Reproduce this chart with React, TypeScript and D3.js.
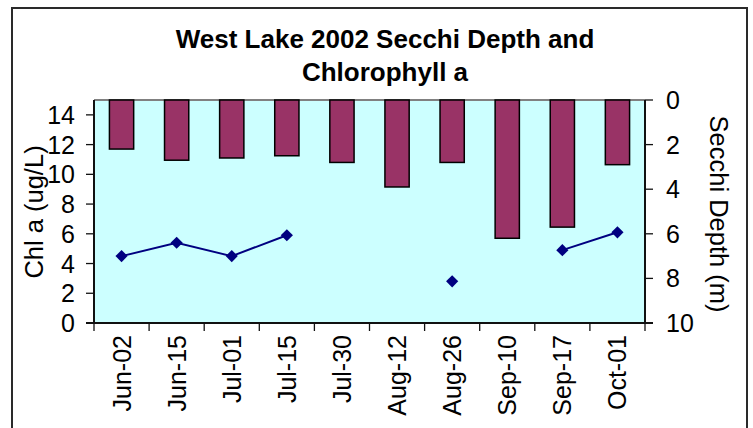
import React from "react";
import * as d3 from "d3";

const categories = ["Jun-02", "Jun-15", "Jul-01", "Jul-15", "Jul-30", "Aug-12", "Aug-26", "Sep-10", "Sep-17", "Oct-01"];
const secchiDepth = [2.2, 2.7, 2.6, 2.5, 2.8, 3.9, 2.8, 6.2, 5.7, 2.9];
const chlA: (number | null)[] = [4.5, 5.4, 4.5, 5.9, null, null, 2.8, null, 4.9, 6.1];
const leftTicks = [0, 2, 4, 6, 8, 10, 12, 14];
const rightTicks = [0, 2, 4, 6, 8, 10];

const W = 753, H = 428;
const pl = 94, pr = 645, pt = 100, pb = 323;
const FONT = "'Liberation Sans', Arial, sans-serif";

export default function App() {
  const x = d3.scaleBand<string>().domain(categories).range([pl, pr]).paddingInner(0).paddingOuter(0);
  const yL = d3.scaleLinear().domain([0, 15]).range([pb, pt]);
  const yR = d3.scaleLinear().domain([0, 10]).range([pt, pb]);
  const bw = x.bandwidth() * 0.44;
  const cx = (c: string) => (x(c) as number) + x.bandwidth() / 2;

  const pts = categories.map((c, i) => ({ c, v: chlA[i] }));
  const line = d3
    .line<{ c: string; v: number | null }>()
    .defined((d) => d.v != null)
    .x((d) => cx(d.c))
    .y((d) => yL(d.v as number));
  const diamond = d3.symbol().type(d3.symbolSquare).size(74)();

  const catTicks = [...categories.map((c) => x(c) as number), pr];

  return (
    <svg width={W} height={H} style={{ position: "absolute", left: 0, top: 0 }} fontFamily={FONT}>
      <rect x={0} y={0} width={W} height={H} fill="#fff" />
      <rect x={12} y={8} width={735} height={440} fill="#fff" stroke="#2a2a2a" strokeWidth={2} />
      <text x={385} y={48} textAnchor="middle" fontSize={26} fontWeight="bold">West Lake 2002 Secchi Depth and</text>
      <text x={385} y={81} textAnchor="middle" fontSize={26} fontWeight="bold">Chlorophyll a</text>

      <rect x={pl} y={pt} width={pr - pl} height={pb - pt} fill="#CCFFFF" />
      <line x1={pl} x2={pr} y1={pt} y2={pt} stroke="#808080" strokeWidth={2} />

      {categories.map((c, i) => (
        <rect key={c} x={cx(c) - bw / 2} y={yR(0)} width={bw} height={yR(secchiDepth[i]) - yR(0)} fill="#993366" stroke="#000" strokeWidth={1.5} />
      ))}

      <path d={line(pts) || ""} fill="none" stroke="#000080" strokeWidth={2} />
      {pts.filter((p) => p.v != null).map((p) => (
        <path key={p.c} d={diamond || ""} transform={`translate(${cx(p.c)},${yL(p.v as number)}) rotate(45)`} fill="#000080" />
      ))}

      <line x1={pl} x2={pl} y1={pt} y2={pb} stroke="#111" strokeWidth={2} />
      <line x1={pr} x2={pr} y1={pt} y2={pb} stroke="#111" strokeWidth={2} />
      <line x1={pl - 8} x2={pr + 8} y1={pb} y2={pb} stroke="#111" strokeWidth={2} />

      {leftTicks.map((t) => (
        <g key={"l" + t}>
          <line x1={pl - 8} x2={pl} y1={yL(t)} y2={yL(t)} stroke="#111" strokeWidth={1.3} />
          <text x={75} y={yL(t)} dy="0.36em" textAnchor="end" fontSize={25}>{t}</text>
        </g>
      ))}
      {rightTicks.map((t) => (
        <g key={"r" + t}>
          <line x1={pr} x2={pr + 8} y1={yR(t)} y2={yR(t)} stroke="#111" strokeWidth={1.3} />
          <text x={666} y={yR(t)} dy="0.36em" textAnchor="start" fontSize={25}>{t}</text>
        </g>
      ))}
      {catTicks.map((t, i) => (
        <line key={"c" + i} x1={t} x2={t} y1={pb} y2={pb + 8} stroke="#111" strokeWidth={1.3} />
      ))}
      {categories.map((c) => (
        <text key={"t" + c} transform={`translate(${cx(c)},${pb + 12}) rotate(-90)`} dy="0.36em" textAnchor="end" fontSize={25}>{c}</text>
      ))}

      <text transform={`translate(34,212) rotate(-90)`} dy="0.36em" textAnchor="middle" fontSize={25.5}>Chl a (ug/L)</text>
      <text transform={`translate(719,214) rotate(90)`} dy="0.36em" textAnchor="middle" fontSize={25.5}>Secchi Depth (m)</text>
    </svg>
  );
}
